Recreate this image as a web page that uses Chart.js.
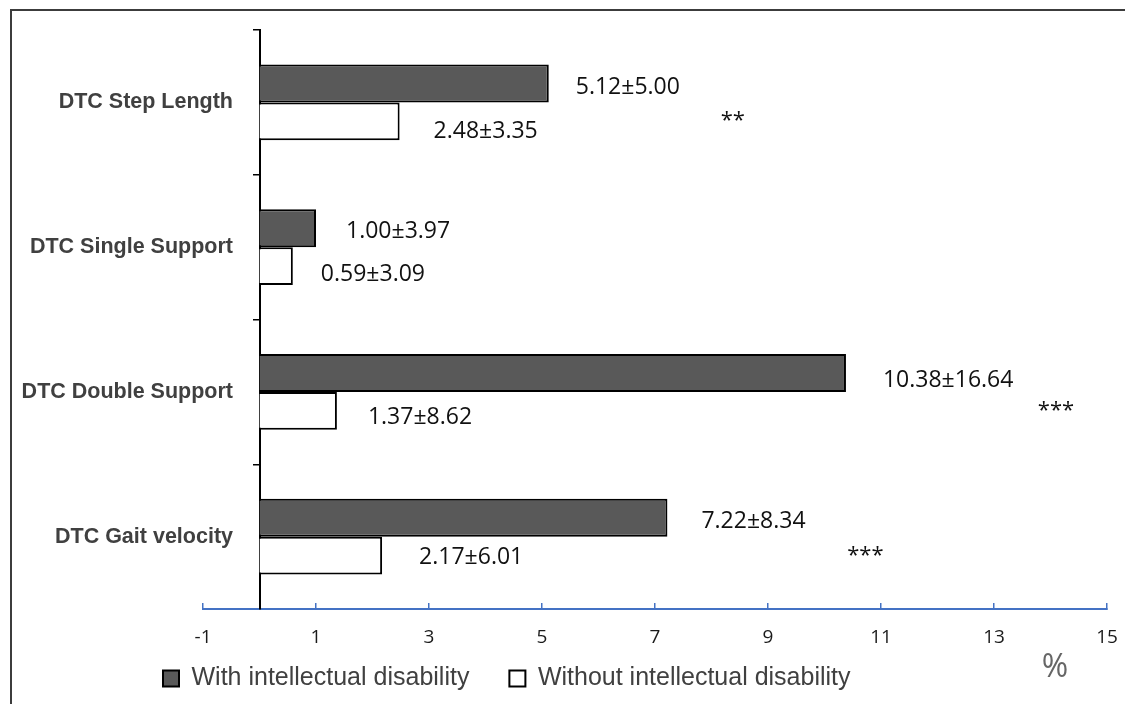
<!DOCTYPE html>
<html>
<head>
<meta charset="utf-8">
<script src="https://cdn.jsdelivr.net/npm/chart.js@4.4.1/dist/chart.umd.min.js"></script>
<style>
  html, body { margin: 0; padding: 0; background: #fff; }
  #wrap { position: relative; width: 1125px; height: 704px; overflow: hidden; }
  #wrap canvas { position: absolute; left: 0; top: 0; }
  #frame {
    position: absolute; left: 10px; top: 9px; width: 1300px; height: 900px;
    border-left: 2px solid #3c3c3c; border-top: 2px solid #3c3c3c;
    pointer-events: none;
  }
</style>
</head>
<body>
<div id="wrap">
  <canvas id="chart" width="1125" height="704"></canvas>
  <div id="frame"></div>
</div>
<script>
// Dual-task cost (%) by gait parameter, mean and SD per group
const categories = ['DTC Step Length', 'DTC Single Support', 'DTC Double Support', 'DTC Gait velocity'];
const seriesNames = ['With intellectual disability', 'Without intellectual disability'];
const withMean = [5.12, 1.00, 10.38, 7.22];
const withSD = [5.00, 3.97, 16.64, 8.34];
const withoutMean = [2.48, 0.59, 1.37, 2.17];
const withoutSD = [3.35, 3.09, 8.62, 6.01];
const significance = ['**', '', '***', '***'];
const xTicks = [-1, 1, 3, 5, 7, 9, 11, 13, 15];
const unitLabel = '%';

// Label placement (pixel nudges from the end of each bar)
const labelNudgeWith = [[27, 4], [30, 3], [37, 8], [34, 4]];
const labelNudgeWithout = [[34, 10], [28, 8], [31, 7], [37, 2]];
const starNudge = [184, 0, 210, 198];

const categoryFont = { family: '"Liberation Sans", Arial, sans-serif', size: 21.5, weight: 'bold' };

// Category names end 30px right of the plot's left edge; size the offset from the widest name
const measureCtx = document.createElement('canvas').getContext('2d');
measureCtx.font = 'bold 21.5px "Liberation Sans", Arial, sans-serif';
const widestCategory = Math.max(...categories.map(c => measureCtx.measureText(c).width));

const valueLabels = {
  id: 'valueLabels',
  afterDatasetsDraw(chart) {
    const ctx = chart.ctx;
    ctx.save();
    ctx.font = '23px "Open Sans", sans-serif';
    ctx.fillStyle = '#111';
    ctx.textAlign = 'left';
    ctx.textBaseline = 'middle';
    const groups = [
      [withMean, withSD, labelNudgeWith],
      [withoutMean, withoutSD, labelNudgeWithout]
    ];
    groups.forEach(([mean, sd, nudge], di) => {
      chart.getDatasetMeta(di).data.forEach((bar, i) => {
        const text = mean[i].toFixed(2) + '\u00B1' + sd[i].toFixed(2);
        ctx.fillText(text, bar.x + nudge[i][0], bar.y + nudge[i][1]);
      });
    });

    // significance markers
    ctx.textAlign = 'center';
    ctx.textBaseline = 'alphabetic';
    ctx.font = '22px "Open Sans", sans-serif';
    const yScale = chart.scales.y;
    chart.getDatasetMeta(0).data.forEach((bar, i) => {
      if (!significance[i]) return;
      ctx.fillText(significance[i], bar.x + starNudge[i], yScale.getPixelForValue(i) + 25);
    });

    // unit under the value axis
    ctx.font = '32px "Open Sans", sans-serif';
    ctx.fillStyle = '#666';
    ctx.textBaseline = 'middle';
    ctx.fillText(unitLabel, chart.chartArea.right - 52, chart.chartArea.bottom + 59);
    ctx.restore();
  }
};

new Chart(document.getElementById('chart'), {
  type: 'bar',
  data: {
    labels: categories,
    datasets: [
      { label: seriesNames[0], data: withMean, backgroundColor: '#595959', borderColor: '#000', borderWidth: 2 },
      { label: seriesNames[1], data: withoutMean, backgroundColor: '#ffffff', borderColor: '#000', borderWidth: 2 }
    ]
  },
  options: {
    indexAxis: 'y',
    responsive: false,
    animation: false,
    datasets: { bar: { categoryPercentage: 0.525, barPercentage: 1 } },
    layout: { padding: { left: 123, top: 30, right: 18, bottom: 3 } },
    plugins: {
      legend: {
        position: 'bottom',
        align: 'start',
        labels: {
          boxWidth: 16, boxHeight: 16, padding: 40, color: '#404040',
          font: { family: '"Liberation Sans", Arial, sans-serif', size: 25 }
        }
      },
      tooltip: { enabled: false }
    },
    scales: {
      x: {
        type: 'linear',
        position: 'bottom',
        min: -1,
        max: 15,
        afterBuildTicks: (s) => { s.ticks = xTicks.map(v => ({ value: v })); },
        afterFit: (s) => { s.height = 17; },
        grid: { drawOnChartArea: false, drawTicks: true, tickLength: -6, color: '#4472C4', lineWidth: 1.5 },
        border: { color: '#4472C4', width: 2 },
        ticks: { mirror: true, padding: -40, color: '#1a1a1a', font: { family: '"Open Sans", sans-serif', size: 19 } }
      },
      y: {
        type: 'category',
        position: 'left',
        afterFit: (s) => { s.width = 80; },
        grid: { display: false, drawTicks: false },
        border: { display: false },
        ticks: {
          mirror: true, crossAlign: 'far', padding: 30 - widestCategory,
          color: '#404040', font: categoryFont
        }
      },
      yAxisLine: {
        type: 'category',
        axis: 'y',
        position: { x: 0 },
        offset: true,
        grid: { offset: true, drawOnChartArea: false, drawTicks: true, tickLength: 6, color: '#000', lineWidth: 1.5 },
        border: { color: '#000', width: 2 },
        ticks: { display: false }
      }
    }
  },
  plugins: [valueLabels]
});
</script>
</body>
</html>
